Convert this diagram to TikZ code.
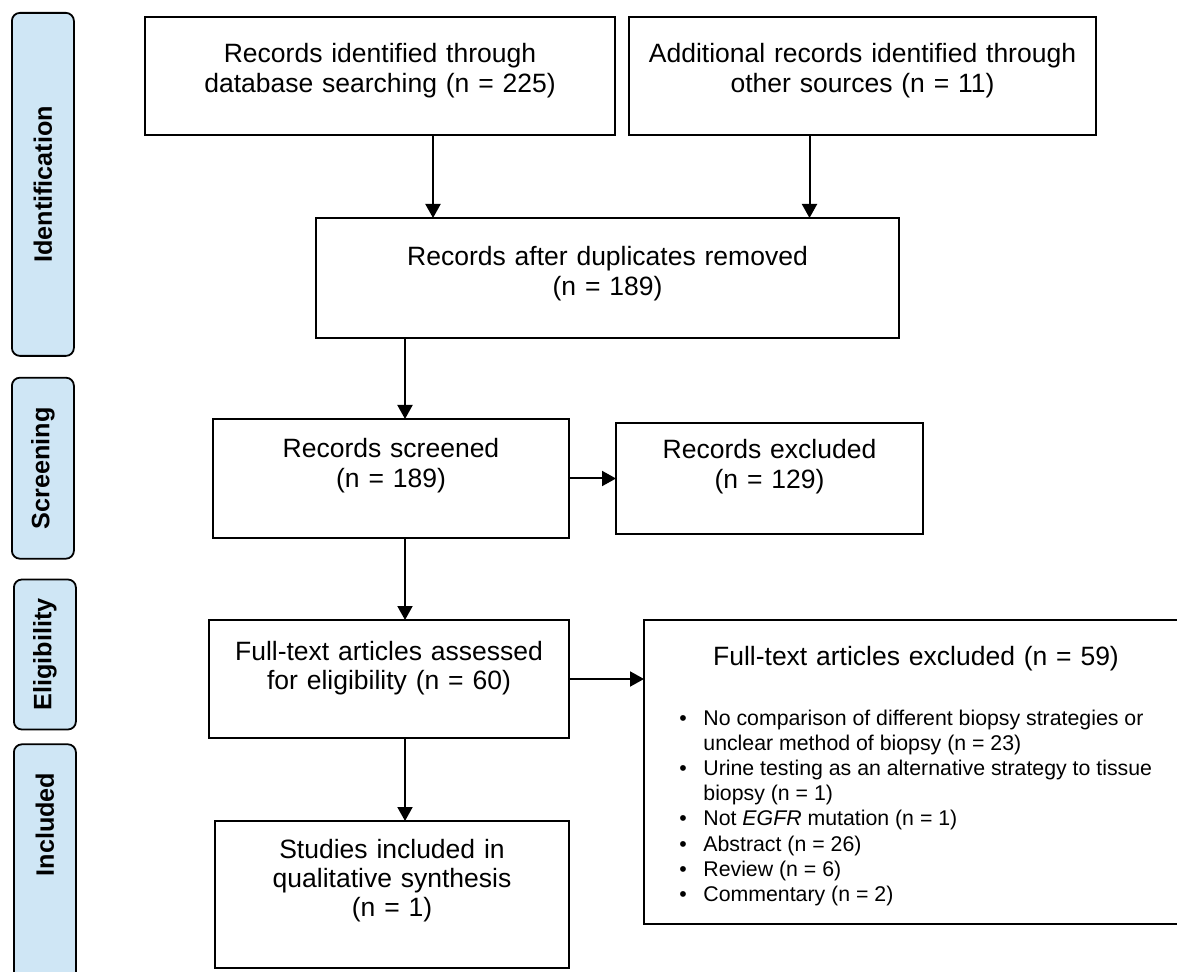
\documentclass[tikz,border=0pt]{standalone}
\usepackage{fontspec}
\setmainfont{Liberation Sans}
\usepackage{tikz}
\usetikzlibrary{arrows.meta,positioning}
\definecolor{PhaseBlue}{HTML}{CFE6F5}
\tikzset{
  phase/.style={draw=black, line width=0.9pt, rounded corners=4pt, fill=PhaseBlue,
    minimum width=31pt, inner sep=0pt, font=\fontsize{12.6}{14}\selectfont\bfseries},
  stagebox/.style={draw=black, line width=1pt, align=center, inner sep=0pt, outer sep=0pt,
    font=\fontsize{13.25}{14.6}\selectfont},
  reasonlist/.style={inner sep=0pt, font=\fontsize{10.65}{12.6}\selectfont},
  wire/.style={-{Triangle[length=7pt, width=7.5pt]}, line width=1pt}
}

\begin{document}
\begin{tikzpicture}[x=1pt, y=1pt]
  \useasboundingbox (0,0) rectangle (588.5,-486);
  \node[phase, minimum height=171.5pt, anchor=north west] (phaseid) at (5.5,-6) {\rotatebox{90}{Identification}};
  \node[phase, minimum height=90.5pt, below=10pt of phaseid] (phasescr) {\rotatebox{90}{Screening}};
  \node[phase, minimum height=75pt, below=9.5pt of phasescr, xshift=1pt] (phaseelig) {\rotatebox{90}{Eligibility}};
  \node[phase, text height=66pt, text depth=57pt, below=6.5pt of phaseelig] (phaseincl) {\rotatebox{90}{Included}};

  \node[stagebox, text width=235pt, text height=23pt, text depth=36pt, anchor=north west] (dbsearch) at (72.5,-8.5)
    {Records identified through\\database searching (n = 225)};
  \node[stagebox, text width=233.5pt, text height=23pt, text depth=36pt, right=7pt of dbsearch] (othersrc)
    {Additional records identified through\\other sources (n = 11)};
  \node[stagebox, text width=291.5pt, text height=24pt, text depth=36pt,
    below=41.5pt of dbsearch.south west, anchor=north west, xshift=85.5pt] (dedup)
    {Records after duplicates removed\\(n = 189)};
  \node[stagebox, text width=178pt, text height=19.5pt, text depth=40pt,
    below=40.5pt of dedup.south west, anchor=north west, xshift=-51.5pt] (screened)
    {Records screened\\(n = 189)};
  \node[stagebox, text width=153.5pt, text height=18pt, text depth=37.5pt, right=23.5pt of screened] (excluded)
    {Records excluded\\(n = 129)};
  \node[stagebox, text width=180pt, text height=20pt, text depth=39pt,
    below=41pt of screened.south west, anchor=north west, xshift=-2pt] (fulltext)
    {Full-text articles assessed\\for eligibility (n = 60)};
  \node[stagebox, text width=272pt, text height=22.5pt, text depth=129.5pt,
    right=37.5pt of fulltext.north east, anchor=north west] (fulltextout)
    {Full-text articles excluded (n = 59)};
  \node[reasonlist, anchor=north west] (reasons) at ([xshift=17.5pt, yshift=-43.5pt]fulltextout.north west)
    {\begin{tabular}{@{}p{12pt}@{}l@{}}
      \textbullet & No comparison of different biopsy strategies or\\
                  & unclear method of biopsy (n = 23)\\
      \textbullet & Urine testing as an alternative strategy to tissue\\
                  & biopsy (n = 1)\\
      \textbullet & Not \textit{EGFR} mutation (n = 1)\\
      \textbullet & Abstract (n = 26)\\
      \textbullet & Review (n = 6)\\
      \textbullet & Commentary (n = 2)
    \end{tabular}};
  \node[stagebox, text width=177pt, text height=18.5pt, text depth=55pt,
    below=41.5pt of fulltext.south west, anchor=north west, xshift=3pt] (included)
    {Studies included in\\qualitative synthesis\\(n = 1)};

  \coordinate (trunk) at (202.5,0);
  \coordinate (dbdrop) at ([xshift=26.5pt]dbsearch.south);
  \coordinate (otherdrop) at ([xshift=-26.5pt]othersrc.south);
  \draw[wire] (dbdrop) -- (dbdrop |- dedup.north);
  \draw[wire] (otherdrop) -- (otherdrop |- dedup.north);
  \draw[wire] (dedup.south -| trunk) -- (screened.north -| trunk);
  \draw[wire] (screened.east) -- (excluded.west);
  \draw[wire] (screened.south -| trunk) -- (fulltext.north -| trunk);
  \draw[wire] (fulltext.east) -- (fulltext.east -| fulltextout.west);
  \draw[wire] (fulltext.south -| trunk) -- (included.north -| trunk);
\end{tikzpicture}
\end{document}
